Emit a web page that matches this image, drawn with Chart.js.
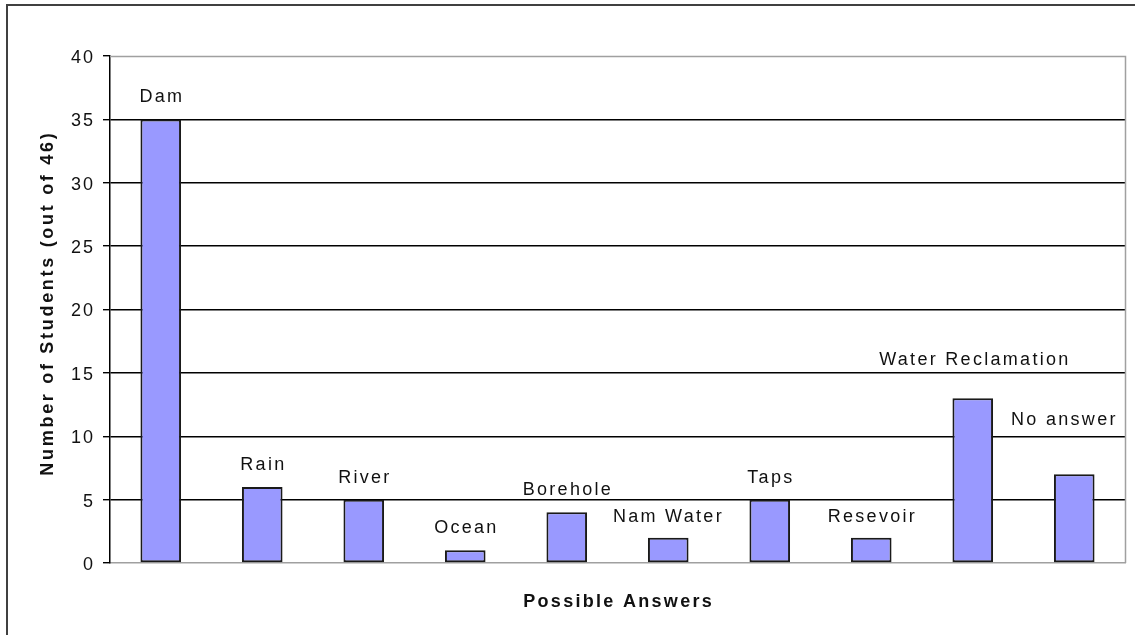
<!DOCTYPE html>
<html>
<head>
<meta charset="utf-8">
<script src="https://cdn.jsdelivr.net/npm/chart.js@4.4.1/dist/chart.umd.min.js"></script>
<style>
	html, body { margin: 0; padding: 0; background: #fff; }
	#wrap { position: relative; width: 1135px; height: 635px; overflow: hidden; }
	#frame {
		position: absolute; left: 6px; top: 4px; width: 1140px; height: 640px;
		border: 2px solid #404040; pointer-events: none;
	}
</style>
</head>
<body>
<div id="wrap">
	<canvas id="chartCanvas" width="1135" height="635"></canvas>
	<div id="frame"></div>
</div>
<script>
const categories = ['Dam', 'Rain', 'River', 'Ocean', 'Borehole', 'Nam Water', 'Taps', 'Resevoir', 'Water Reclamation', 'No answer'];
const students = [35, 6, 5, 1, 4, 2, 5, 2, 13, 7];
const yTicks = [0, 5, 10, 15, 20, 25, 30, 35, 40];
const yTitle = 'Number of Students (out of 46)';
const xTitle = 'Possible Answers';

const FONT = '"Liberation Sans", Arial, sans-serif';

// label nudges (pixels) for the manually moved Excel labels
const labelLift = [17, 17, 17, 17, 17, 16, 17, 16, 33, 49];
const labelShift = [0, 0, 0, 0, 0, -1, 0, 0, 1, -11];

function spacedText(ctx, text, x, y, spacing, align) {
	ctx.letterSpacing = spacing + 'px';
	const w = ctx.measureText(text).width - spacing;
	let sx = x;
	if (align === 'center') sx = x - w / 2;
	else if (align === 'right') sx = x - w;
	ctx.textAlign = 'left';
	ctx.fillText(text, sx, y);
	ctx.letterSpacing = '0px';
}

const textPlugin = {
	id: 'textPlugin',
	beforeDatasetsDraw(chart) {
		const { ctx, chartArea } = chart;
		ctx.save();
		ctx.strokeStyle = '#a0a0a0';
		ctx.lineWidth = 1.5;
		ctx.beginPath();
		ctx.moveTo(chartArea.left, chartArea.top + 0.5);
		ctx.lineTo(chartArea.right + 0.5, chartArea.top + 0.5);
		ctx.lineTo(chartArea.right + 0.5, chartArea.bottom);
		ctx.stroke();
		ctx.restore();
	},
	afterDraw(chart) {
		const { ctx, chartArea } = chart;
		const yScale = chart.scales.y;
		ctx.save();
		ctx.fillStyle = '#111';

		// y tick labels
		ctx.font = '18px ' + FONT;
		ctx.textBaseline = 'middle';
		yTicks.forEach(v => {
			spacedText(ctx, String(v), 93, yScale.getPixelForValue(v) + 2, 2, 'right');
		});

		// bar labels
		ctx.textBaseline = 'alphabetic';
		const meta = chart.getDatasetMeta(0);
		meta.data.forEach((bar, i) => {
			spacedText(ctx, categories[i], bar.x + labelShift[i], bar.y - labelLift[i], 2.3, 'center');
		});

		// axis titles
		ctx.font = 'bold 18px ' + FONT;
		spacedText(ctx, xTitle, (chartArea.left + chartArea.right) / 2, 607, 2.3, 'center');
		ctx.translate(53, (chartArea.top + chartArea.bottom) / 2 - 5);
		ctx.rotate(-Math.PI / 2);
		spacedText(ctx, yTitle, 0, 0, 2.7, 'center');
		ctx.restore();
	}
};

const ctx = document.getElementById('chartCanvas').getContext('2d');
const chart = new Chart(ctx, {
	type: 'bar',
	data: {
		labels: categories,
		datasets: [{
			data: students,
			backgroundColor: '#9999ff',
			borderColor: '#1a1a1a',
			borderWidth: 2,
			borderSkipped: false,
			categoryPercentage: 1,
			barPercentage: 0.4
		}]
	},
	options: {
		responsive: false,
		devicePixelRatio: 1,
		animation: false,
		layout: { padding: { top: 56, right: 10, left: 0, bottom: 0 } },
		plugins: {
			legend: { display: false },
			tooltip: { enabled: false }
		},
		scales: {
			x: {
				grid: { display: false },
				ticks: { display: false },
				border: { color: '#a0a0a0', width: 1.5 },
				afterFit(scale) { scale.height = 72; }
			},
			y: {
				min: 0,
				max: 40,
				ticks: { stepSize: 5, color: 'transparent', font: { size: 17 } },
				grid: {
					color: c => (c.tick.value === 0 || c.tick.value === 40) ? 'transparent' : '#000',
					tickColor: '#000',
					tickLength: 7,
					lineWidth: 1.4
				},
				border: { color: '#000', width: 1.5 },
				afterFit(scale) { scale.width = 110; }
			}
		}
	},
	plugins: [textPlugin]
});
</script>
</body>
</html>
